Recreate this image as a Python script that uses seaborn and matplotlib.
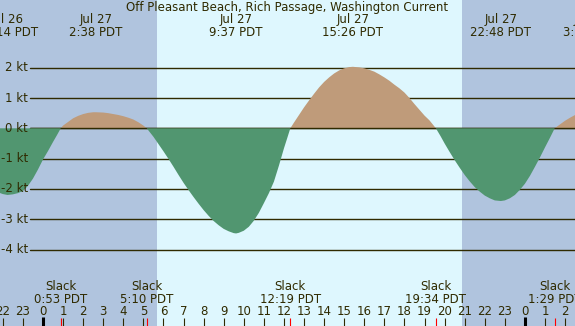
import matplotlib
matplotlib.use("Agg")
import matplotlib.pyplot as plt
import matplotlib.transforms as mtransforms
import seaborn as sns
import numpy as np

# current readings, hours from Jul 27 00:00 PDT, knots
hours = [-2.5, -2.25, -2.0, -1.767, -1.5, -1.25, -1.0, -0.75, -0.5, -0.25, 0.0,
         0.25, 0.5, 0.7, 0.883, 1.0, 1.25, 1.5, 1.75, 2.0, 2.25, 2.5, 2.633,
         3.0, 3.25, 3.5, 3.75, 4.0, 4.25, 4.5, 4.75, 5.0, 5.167, 5.5, 5.75,
         6.0, 6.25, 6.5, 6.75, 7.0, 7.25, 7.5, 7.75, 8.0, 8.25, 8.5, 8.75,
         9.0, 9.25, 9.5, 9.617, 9.75, 10.0, 10.25, 10.5, 10.75, 11.0, 11.25,
         11.5, 11.75, 12.0, 12.15, 12.317, 12.5, 12.75, 13.0, 13.25, 13.5,
         13.75, 14.0, 14.25, 14.5, 14.75, 15.0, 15.25, 15.433, 15.75, 16.0,
         16.25, 16.5, 16.75, 17.0, 17.25, 17.5, 17.75, 18.0, 18.25, 18.5,
         18.75, 19.0, 19.25, 19.567, 19.8, 20.0, 20.25, 20.5, 20.75, 21.0,
         21.25, 21.5, 21.75, 22.0, 22.25, 22.5, 22.65, 22.8, 23.0, 23.25,
         23.5, 23.75, 24.0, 24.25, 24.5, 24.75, 25.0, 25.25, 25.483, 25.75,
         26.0, 26.25, 26.5, 26.75, 27.0]
knots = [-2.02, -2.11, -2.17, -2.20, -2.18, -2.14, -2.07, -1.90, -1.66, -1.36,
         -1.03, -0.75, -0.45, -0.22, 0.0, 0.09, 0.21, 0.33, 0.41, 0.47, 0.51,
         0.53, 0.53, 0.52, 0.50, 0.47, 0.44, 0.40, 0.35, 0.29, 0.20, 0.09, 0.0,
         -0.28, -0.52, -0.76, -1.01, -1.27, -1.54, -1.80, -2.04, -2.27, -2.49,
         -2.70, -2.89, -3.06, -3.20, -3.32, -3.40, -3.46, -3.47, -3.45, -3.38,
         -3.25, -3.05, -2.79, -2.47, -2.14, -1.76, -1.23, -0.66, -0.35, 0.0,
         0.19, 0.44, 0.69, 0.92, 1.14, 1.35, 1.53, 1.68, 1.81, 1.91, 1.98, 2.02,
         2.03, 2.01, 1.98, 1.93, 1.87, 1.78, 1.68, 1.57, 1.44, 1.32, 1.18, 1.00,
         0.80, 0.61, 0.42, 0.26, 0.0, -0.26, -0.50, -0.78, -1.05, -1.30, -1.54,
         -1.75, -1.94, -2.09, -2.22, -2.31, -2.38, -2.39, -2.40, -2.38, -2.31,
         -2.20, -2.03, -1.83, -1.57, -1.27, -0.96, -0.63, -0.31, 0.0, 0.13,
         0.25, 0.35, 0.44, 0.50, 0.53]

# max flood / max ebb events
max_hours = [-1.767, 2.633, 9.617, 15.433, 22.8, 27.233]
max_days = ["Jul 26", "Jul 27", "Jul 27", "Jul 27", "Jul 27", "Jul 28"]
max_times = ["22:14 PDT", "2:38 PDT", "9:37 PDT", "15:26 PDT", "22:48 PDT", "3:14 PDT"]

# slack events
slack_hours = [0.883, 5.167, 12.317, 19.567, 25.483]
slack_times = ["0:53 PDT", "5:10 PDT", "12:19 PDT", "19:34 PDT", "1:29 PDT"]

sunrise = 5.68
sunset = 20.87
kt_levels = [2, 1, 0, -1, -2, -3, -4]
hour_ticks = list(range(-2, 27))

title = "Off Pleasant Beach, Rich Passage, Washington Current"

# ----------------------------
# pixel geometry of the picture
# ----------------------------
W, H = 575, 326
x0_px, px_per_h = 43.0, 20.08
y0_px, px_per_kt = 128.3, 30.3

night = "#b0c4de"
day = "#def7fe"
flood = "#bf9b7a"
ebb = "#519670"
ink = "#2f2a00"

sns.set_theme(style="white")
plt.rcParams["font.family"] = ["DejaVu Sans"]

fig = plt.figure(figsize=(W / 100, H / 100), dpi=100)
ax = fig.add_axes([0, 0, 1, 1])
ax.set_xlim(-x0_px / px_per_h, (W - x0_px) / px_per_h)
ax.set_ylim(-(H - y0_px) / px_per_kt, y0_px / px_per_kt)
ax.axis("off")
blend = mtransforms.blended_transform_factory(ax.transData, ax.transAxes)


def yfrac(ypx):
    return 1 - ypx / H


# day / night bands
ax.axvspan(-5, sunrise, color=night, zorder=0, lw=0)
ax.axvspan(sunrise, sunset, color=day, zorder=0, lw=0)
ax.axvspan(sunset, 30, color=night, zorder=0, lw=0)

# knot grid
for k in kt_levels:
    ax.axhline(k, xmin=30 / W, xmax=1, color=ink, lw=1.0, zorder=1)
    ax.text((28 - x0_px) / px_per_h, k, f"{k} kt", ha="right", va="center",
            fontsize=8.5, color=ink, zorder=6)

t = np.array(hours)
v = np.array(knots)
ax.fill_between(t, 0, v, where=v >= 0, interpolate=True, color=flood, lw=0, zorder=2)
ax.axhline(0, xmin=30 / W, xmax=1, color=ink, lw=1.0, zorder=2.5)
ax.fill_between(t, 0, v, where=v <= 0, interpolate=True, color=ebb, lw=0, zorder=3)

# title and max labels
ax.text(0.5, yfrac(7), title, transform=ax.transAxes, ha="center", va="center",
        fontsize=8.5, color=ink, zorder=6)
for h, d, s in zip(max_hours, max_days, max_times):
    ax.text(h, yfrac(20), d, transform=blend, ha="center", va="center", fontsize=8.5, color=ink)
    ax.text(h, yfrac(32.5), s, transform=blend, ha="center", va="center", fontsize=8.5, color=ink)

# slack labels
for h, s in zip(slack_hours, slack_times):
    ax.text(h, yfrac(287), "Slack", transform=blend, ha="center", va="center", fontsize=8.5, color=ink)
    ax.text(h, yfrac(299.5), s, transform=blend, ha="center", va="center", fontsize=8.5, color=ink)

# hour axis
for h in hour_ticks:
    ax.text(h, yfrac(311.5), str(h % 24), transform=blend, ha="center", va="center",
            fontsize=8.5, color=ink)
    if h % 24 == 0:
        ax.vlines(h, 0, 9 / H, transform=blend, color="black", lw=2.2, zorder=5)
    else:
        ax.vlines(h, 0, 8 / H, transform=blend, color=ink, lw=0.8, zorder=5)
ax.vlines(slack_hours, 0, 8.5 / H, transform=blend, color="red", lw=0.8, zorder=5)

fig.savefig("out.png", dpi=100)
